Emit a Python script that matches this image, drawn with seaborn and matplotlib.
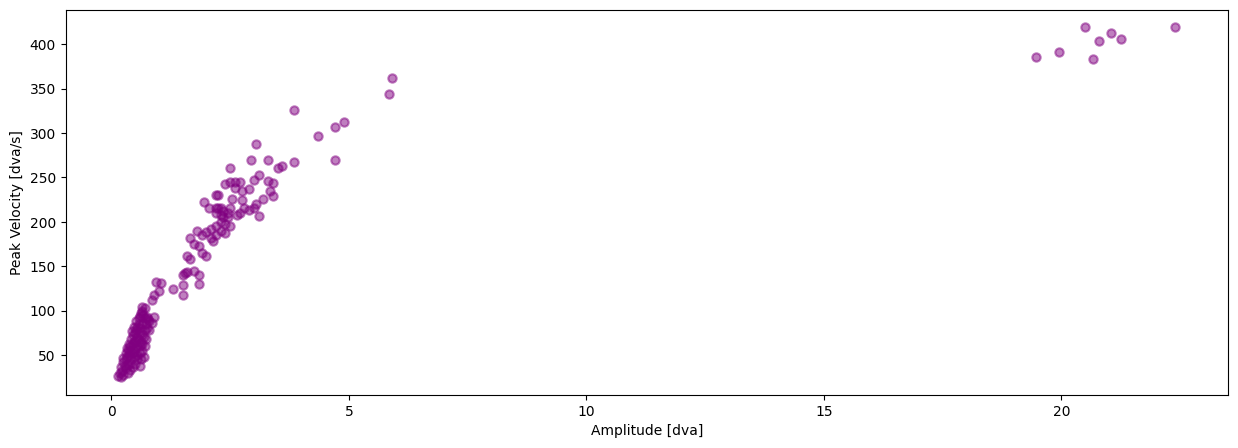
import pandas as pd
import matplotlib
matplotlib.use("Agg")
import matplotlib.pyplot as plt
import seaborn as sns

# saccade amplitude [dva] and peak velocity [dva/s]
amplitude = [
    # large saccades
    19.47, 19.95, 20.5, 20.67, 20.8, 21.05, 21.25, 22.4,
    # medium
    5.85, 5.9, 3.85, 4.35, 4.7, 4.9, 4.7, 3.85, 3.6, 3.5, 3.05, 2.5, 3.3,
    3.4, 3.35, 3.4, 3.1, 3.0, 2.95, 3.3, 3.2, 3.05, 3.0, 3.1,
    2.5, 2.6, 2.7, 2.4, 2.6, 2.75, 2.9, 2.55, 2.75, 2.5, 2.8, 2.9, 2.7,
    2.65, 2.45, 2.35, 2.3, 2.2, 2.4, 2.5, 2.3, 2.4, 2.2, 2.1, 2.15, 2.0,
    1.95, 2.05, 2.2, 2.25, 2.2, 2.25, 2.3, 2.2, 2.3, 2.35, 2.45, 2.1, 2.0,
    1.9, 1.8, 1.75, 1.85, 1.9, 1.65, 1.65, 1.6, 1.75, 1.85, 1.85, 1.55,
    1.6, 1.5, 1.5, 1.5, 1.3, 1.05, 0.95, 1.0, 0.9, 0.85, 0.9, 0.85, 0.8,
    0.75, 0.7, 0.65, 0.65, 0.6,
    # small
    0.15, 0.2, 0.25, 0.22, 0.3, 0.28, 0.25, 0.3, 0.35, 0.32, 0.38, 0.4,
    0.42, 0.45, 0.35, 0.4, 0.45, 0.5, 0.48, 0.42, 0.45, 0.5, 0.55, 0.52,
    0.55, 0.6, 0.58, 0.6, 0.62, 0.6, 0.65, 0.55, 0.5, 0.55, 0.6, 0.65,
    0.68, 0.7, 0.65, 0.72, 0.75, 0.8, 0.78, 0.7, 0.6, 0.45, 0.4, 0.35,
    0.3, 0.25, 0.2, 0.18, 0.5, 0.55, 0.5, 0.48, 0.52, 0.58, 0.62, 0.66,
    0.7, 0.72, 0.68, 0.62, 0.4, 0.38, 0.33, 0.43, 0.47, 0.56, 0.64,
]
peak_velocity = [
    386, 391, 419, 383, 404, 412, 406, 419,
    344, 362, 326, 297, 307, 312, 269, 267, 263, 260, 287, 260, 270,
    244, 235, 229, 253, 247, 269, 246, 226, 220, 216, 207,
    245, 245, 245, 243, 238, 235, 237, 226, 225, 215, 215, 213, 210,
    208, 210, 205, 200, 195, 198, 195, 190, 187, 185, 182, 178, 188,
    222, 216, 230, 230, 215, 215, 215, 210, 208, 212, 205, 192, 162,
    185, 190, 175, 173, 165, 182, 158, 162, 145, 140, 130, 142,
    143, 140, 129, 117, 124, 131, 132, 122, 117, 112, 93, 86, 88,
    93, 103, 104, 100, 94,
    26, 25, 28, 32, 35, 38, 42, 45, 40, 48, 50, 55,
    45, 52, 56, 60, 62, 58, 65, 68, 72, 75, 70, 78,
    82, 80, 85, 75, 65, 60, 55, 50, 48, 45, 52, 62,
    70, 78, 85, 85, 80, 78, 90, 92, 38, 36, 33, 30,
    52, 47, 36, 30, 40, 60, 66, 55, 88, 92, 97, 95,
    60, 68, 48, 45, 40, 62, 58, 77, 82, 68, 73,
]

df = pd.DataFrame({"amplitude": amplitude, "peak_velocity": peak_velocity})

fig, ax = plt.subplots(figsize=(15, 5))
sns.scatterplot(data=df, x="amplitude", y="peak_velocity", color="purple",
                edgecolor="purple", linewidth=1.5, alpha=0.5, s=36, ax=ax)
ax.set_xlabel("Amplitude [dva]")
ax.set_ylabel("Peak Velocity [dva/s]")

plt.savefig("out.png", dpi=100, bbox_inches="tight")
